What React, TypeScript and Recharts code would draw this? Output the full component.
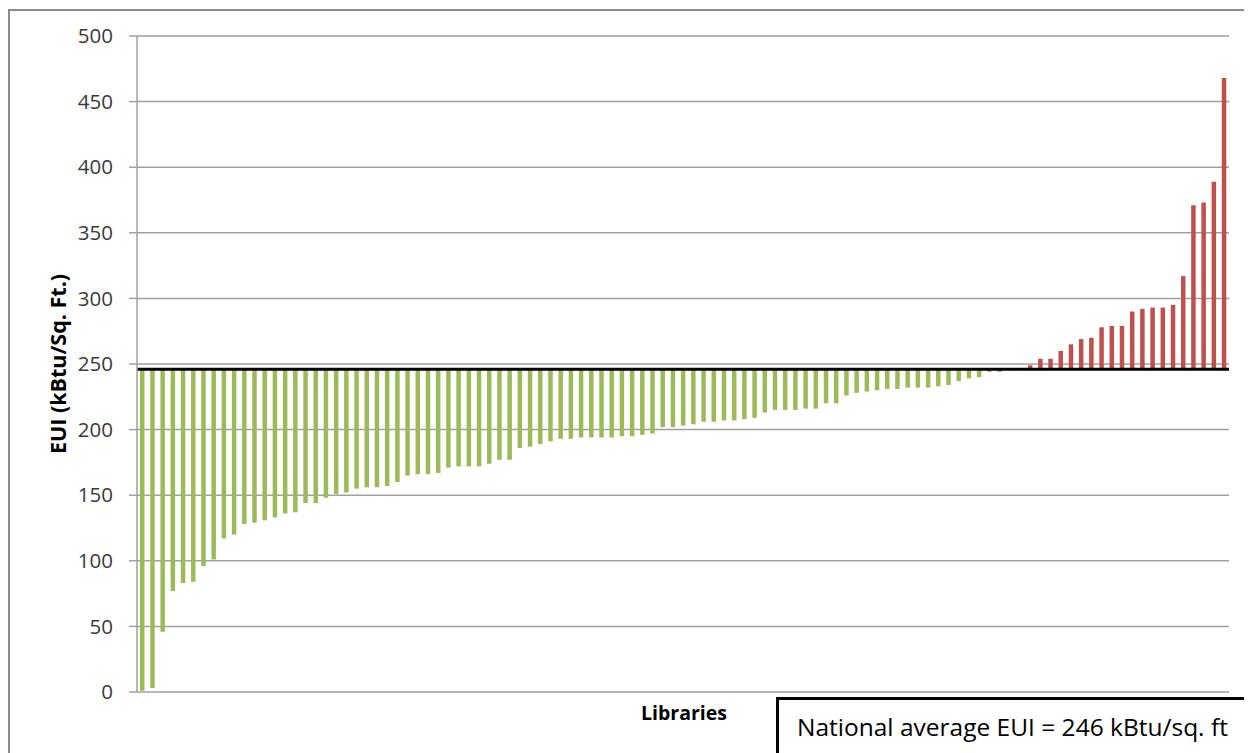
import React from 'react';
import { BarChart, Bar, XAxis, YAxis, CartesianGrid, ReferenceLine, Cell } from 'recharts';

const euiValues = [
  1, 3, 46, 77, 83, 84, 96, 101, 117, 120,
  128, 129, 131, 133, 136, 137, 144, 144, 148, 151,
  152, 155, 156, 156, 157, 160, 165, 166, 166, 167,
  171, 172, 172, 172, 174, 177, 177, 186, 187, 189,
  191, 193, 193, 194, 194, 194, 194, 195, 195, 196,
  197, 202, 202, 203, 204, 206, 206, 207, 207, 208,
  209, 213, 215, 215, 215, 216, 216, 220, 220, 226,
  228, 229, 230, 231, 231, 232, 232, 232, 233, 234,
  237, 239, 240, 244, 244, 245, 246, 249, 254, 254,
  260, 265, 269, 270, 278, 279, 279, 290, 292, 293,
  293, 295, 317, 371, 373, 389, 468,
];

const nationalAverage = 246;
const yTicks = [0, 50, 100, 150, 200, 250, 300, 350, 400, 450, 500];
const libraryNames = euiValues.map((_, i) => `Library ${i + 1}`);

const yAxisTitle = 'EUI (kBtu/Sq. Ft.)';
const xAxisTitle = 'Libraries';
const noteText = 'National average EUI = 246 kBtu/sq. ft';

const GREEN = '#9BBB59';
const RED = '#C0504D';
const GRID = '#a0a0a0';

const data = euiValues.map((v, i) => ({
  name: libraryNames[i],
  eui: v,
  range: [Math.min(v, nationalAverage), Math.max(v, nationalAverage)],
}));

export default function App() {
  return (
    <div
      style={{
        position: 'relative',
        width: 1244,
        height: 745,
        overflow: 'hidden',
        background: '#fff',
        fontFamily: '"Open Sans", sans-serif',
      }}
    >
      <BarChart
        width={1244}
        height={745}
        data={data}
        margin={{ top: 28, right: 23, bottom: 61, left: 0 }}
        barSize={4.5}
      >
        <CartesianGrid vertical={false} stroke={GRID} strokeWidth={1.5} />
        <XAxis dataKey="name" hide />
        <YAxis
          domain={[0, 500]}
          ticks={yTicks}
          interval={0}
          width={129}
          tickSize={8}
          tickMargin={16}
          axisLine={{ stroke: GRID, strokeWidth: 1.5 }}
          tickLine={{ stroke: GRID, strokeWidth: 1.5 }}
          tick={{ fill: '#3a3a3a', fontSize: 20.5, fontFamily: '"Open Sans", sans-serif' }}
        />
        <Bar dataKey="range" isAnimationActive={false}>
          {data.map((d) => (
            <Cell key={d.name} fill={d.eui >= nationalAverage ? RED : GREEN} />
          ))}
        </Bar>
        <ReferenceLine y={nationalAverage} stroke="#000" strokeWidth={3} />
      </BarChart>

      <div
        style={{
          position: 'absolute',
          left: 0,
          top: 1,
          width: 1244,
          height: 744,
          borderTop: '2px solid #8c8c8c',
          borderLeft: '2px solid #8c8c8c',
          boxSizing: 'border-box',
          pointerEvents: 'none',
        }}
      />

      <div
        style={{
          position: 'absolute',
          left: 49,
          top: 356,
          transform: 'translate(-50%, -50%) rotate(-90deg)',
          whiteSpace: 'nowrap',
          fontWeight: 700,
          fontSize: 21.5,
          color: '#000',
        }}
      >
        {yAxisTitle}
      </div>

      <div
        style={{
          position: 'absolute',
          left: 676,
          top: 704,
          transform: 'translate(-50%, -50%)',
          whiteSpace: 'nowrap',
          fontWeight: 700,
          fontSize: 19.5,
          color: '#000',
        }}
      >
        {xAxisTitle}
      </div>

      <div
        style={{
          position: 'absolute',
          left: 768,
          top: 689,
          width: 471,
          height: 80,
          border: '3px solid #000',
          boxSizing: 'border-box',
          background: '#fff',
          paddingLeft: 18,
          paddingTop: 10,
          fontSize: 24.5,
          lineHeight: '33px',
          color: '#000',
          whiteSpace: 'nowrap',
        }}
      >
        {noteText}
      </div>
    </div>
  );
}
